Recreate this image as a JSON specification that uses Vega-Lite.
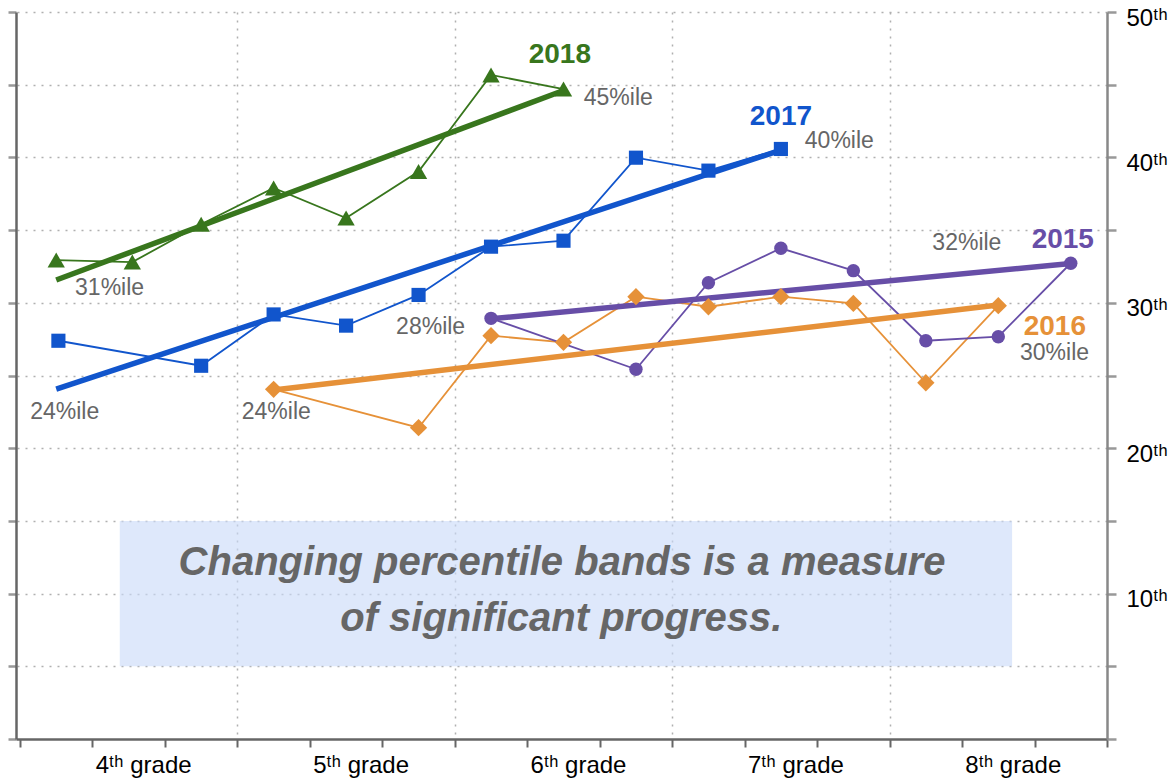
{
  "$schema": "https://vega.github.io/schema/vega-lite/v6.json",
  "width": 1091,
  "height": 727,
  "autosize": "none",
  "padding": {"left": 16, "top": 12, "right": 67, "bottom": 42},
  "background": "white",
  "config": {"view": {"stroke": null}, "font": "Liberation Sans"},
  "datasets": {
    "pts": [
      {"series": "2018", "kind": "actual", "x": 0.5, "y": 32.94},
      {"series": "2018", "kind": "actual", "x": 1.55, "y": 32.8},
      {"series": "2018", "kind": "actual", "x": 2.5, "y": 35.4},
      {"series": "2018", "kind": "actual", "x": 3.5, "y": 37.9},
      {"series": "2018", "kind": "actual", "x": 4.5, "y": 35.83},
      {"series": "2018", "kind": "actual", "x": 5.5, "y": 39.03},
      {"series": "2018", "kind": "actual", "x": 6.5, "y": 45.67},
      {"series": "2018", "kind": "actual", "x": 7.5, "y": 44.7},
      {"series": "2018", "kind": "trend", "x": 0.5, "y": 31.57},
      {"series": "2018", "kind": "trend", "x": 7.5, "y": 44.6},
      {"series": "2017", "kind": "actual", "x": 0.53, "y": 27.39},
      {"series": "2017", "kind": "actual", "x": 2.5, "y": 25.67},
      {"series": "2017", "kind": "actual", "x": 3.5, "y": 29.2},
      {"series": "2017", "kind": "actual", "x": 4.5, "y": 28.43},
      {"series": "2017", "kind": "actual", "x": 5.5, "y": 30.54},
      {"series": "2017", "kind": "actual", "x": 6.5, "y": 33.86},
      {"series": "2017", "kind": "actual", "x": 7.5, "y": 34.27},
      {"series": "2017", "kind": "actual", "x": 8.5, "y": 39.98},
      {"series": "2017", "kind": "actual", "x": 9.5, "y": 39.09},
      {"series": "2017", "kind": "actual", "x": 10.5, "y": 40.58},
      {"series": "2017", "kind": "trend", "x": 0.5, "y": 24.07},
      {"series": "2017", "kind": "trend", "x": 10.5, "y": 40.5},
      {"series": "2016", "kind": "actual", "x": 3.5, "y": 24.05},
      {"series": "2016", "kind": "actual", "x": 5.5, "y": 21.41},
      {"series": "2016", "kind": "actual", "x": 6.5, "y": 27.74},
      {"series": "2016", "kind": "actual", "x": 7.5, "y": 27.28},
      {"series": "2016", "kind": "actual", "x": 8.5, "y": 30.42},
      {"series": "2016", "kind": "actual", "x": 9.5, "y": 29.73},
      {"series": "2016", "kind": "actual", "x": 10.5, "y": 30.42},
      {"series": "2016", "kind": "actual", "x": 11.5, "y": 29.96},
      {"series": "2016", "kind": "actual", "x": 12.5, "y": 24.5},
      {"series": "2016", "kind": "actual", "x": 13.5, "y": 29.8},
      {"series": "2016", "kind": "trend", "x": 3.5, "y": 24.0},
      {"series": "2016", "kind": "trend", "x": 13.5, "y": 29.85},
      {"series": "2015", "kind": "actual", "x": 6.5, "y": 28.93},
      {"series": "2015", "kind": "actual", "x": 8.5, "y": 25.43},
      {"series": "2015", "kind": "actual", "x": 9.5, "y": 31.38},
      {"series": "2015", "kind": "actual", "x": 10.5, "y": 33.75},
      {"series": "2015", "kind": "actual", "x": 11.5, "y": 32.21},
      {"series": "2015", "kind": "actual", "x": 12.5, "y": 27.39},
      {"series": "2015", "kind": "actual", "x": 13.5, "y": 27.67},
      {"series": "2015", "kind": "actual", "x": 14.5, "y": 32.72},
      {"series": "2015", "kind": "trend", "x": 6.5, "y": 28.9},
      {"series": "2015", "kind": "trend", "x": 14.5, "y": 32.7}
    ],
    "years": [
      {"series": "2018", "text": "2018", "x": 7.45, "y": 47.04},
      {"series": "2017", "text": "2017", "x": 10.5, "y": 42.78},
      {"series": "2015", "text": "2015", "x": 14.39, "y": 34.32},
      {"series": "2016", "text": "2016", "x": 14.28, "y": 28.35}
    ],
    "pct": [
      {"text": "45%ile", "x": 7.78, "y": 44.09},
      {"text": "40%ile", "x": 10.83, "y": 41.13},
      {"text": "31%ile", "x": 0.76, "y": 31.02},
      {"text": "24%ile", "x": 0.14, "y": 22.49},
      {"text": "24%ile", "x": 3.06, "y": 22.49},
      {"text": "28%ile", "x": 5.19, "y": 28.34},
      {"text": "32%ile", "x": 12.59, "y": 34.11},
      {"text": "30%ile", "x": 13.8, "y": 26.55}
    ],
    "box": [
      {"x": 1.377, "x2": 13.69, "y0": 5, "y1": 15}
    ],
    "note": [
      {"text": "Changing percentile bands is a measure", "x": 7.48, "y": 11.28},
      {"text": "of significant progress.", "x": 7.47, "y": 7.45}
    ]
  },
  "encoding": {
    "x": {
      "field": "x", "type": "quantitative",
      "scale": {"domain": [-0.055, 15], "nice": false, "zero": false},
      "axis": {
        "orient": "bottom",
        "title": null,
        "values": [0, 1, 1.7, 2, 3, 4, 4.7, 5, 6, 7, 7.7, 8, 9, 10, 10.7, 11, 12, 13, 13.7, 14, 15],
        "grid": true,
        "gridDash": [2, 6],
        "gridColor": "#b0b0b0",
        "gridWidth": 1.5,
        "gridOpacity": {"condition": {"test": "datum.value % 3 === 0 && datum.value > 0 && datum.value < 15", "value": 1}, "value": 0},
        "tickOpacity": {"condition": {"test": "datum.value % 1 !== 0", "value": 0}, "value": 1},
        "tickColor": "#666666",
        "tickWidth": 2,
        "tickSize": 8,
        "domainColor": "#666666",
        "domainWidth": 2.5,
        "labelExpr": "datum.value % 1 === 0 ? '' : (floor(datum.value / 3) + 4) + 'ᵗʰ grade'",
        "labelFont": "Liberation Sans",
        "labelFontSize": 24,
        "labelColor": "#000000",
        "labelPadding": 6,
        "labelOverlap": false,
        "labelFlush": false
      }
    }
  },
  "layer": [
    {
      "data": {"name": "box"},
      "mark": {"type": "rect", "fill": "#c9daf8", "opacity": 0.62},
      "encoding": {
        "x2": {"field": "x2"},
        "y": {
          "field": "y0", "type": "quantitative",
          "scale": {"domain": [0, 50], "nice": false, "zero": false},
          "axis": {
            "orient": "right",
            "title": null,
            "values": [0, 5, 10, 15, 20, 25, 30, 35, 40, 45, 50],
            "grid": true,
            "gridDash": [2, 6],
            "gridColor": "#b0b0b0",
            "gridWidth": 1.5,
            "gridOpacity": {"condition": {"test": "datum.value === 0", "value": 0}, "value": 1},
            "domainColor": "#888888",
            "domainWidth": 2.5,
            "tickColor": "#999999",
            "tickWidth": 2.5,
            "tickSize": 9,
            "labelExpr": "datum.value % 10 === 0 && datum.value > 0 ? datum.value + 'ᵗʰ' : ''",
            "labelFont": "Liberation Sans",
            "labelFontSize": 24,
            "labelColor": "#000000",
            "labelPadding": 10,
            "labelBaseline": "middle",
            "labelOffset": 6,
            "labelOverlap": false,
            "labelFlush": false
          }
        },
        "y2": {"field": "y1"}
      }
    },
    {
      "data": {"name": "pts"},
      "transform": [{"filter": "datum.kind === 'actual'"}],
      "mark": {"type": "line", "strokeWidth": 1.8},
      "encoding": {
        "y": {
          "field": "y", "type": "quantitative",
          "axis": {
            "orient": "left",
            "title": null,
            "values": [0, 5, 10, 15, 20, 25, 30, 35, 40, 45, 50],
            "grid": false,
            "labels": false,
            "domainColor": "#666666",
            "domainWidth": 2.5,
            "tickColor": "#999999",
            "tickWidth": 2.5,
            "tickSize": 8
          }
        },
        "detail": {"field": "series"},
        "order": {"field": "x", "type": "quantitative"},
        "color": {
          "field": "series", "type": "nominal",
          "scale": {"domain": ["2015", "2016", "2017", "2018"], "range": ["#674ea7", "#e69138", "#1155cc", "#38761d"]},
          "legend": null
        }
      }
    },
    {
      "data": {"name": "pts"},
      "transform": [{"filter": "datum.kind === 'trend'"}],
      "mark": {"type": "line", "strokeWidth": 5.5},
      "encoding": {
        "y": {"field": "y", "type": "quantitative", "axis": null},
        "detail": {"field": "series"},
        "color": {"field": "series", "type": "nominal", "legend": null}
      }
    },
    {
      "data": {"name": "pts"},
      "transform": [{"filter": "datum.kind === 'actual'"}],
      "mark": {"type": "point", "filled": true, "opacity": 1},
      "encoding": {
        "y": {"field": "y", "type": "quantitative", "axis": null},
        "color": {"field": "series", "type": "nominal", "legend": null},
        "shape": {
          "field": "series", "type": "nominal",
          "scale": {"domain": ["2015", "2016", "2017", "2018"], "range": ["circle", "diamond", "square", "triangle-up"]},
          "legend": null
        },
        "size": {
          "field": "series", "type": "nominal",
          "scale": {"type": "ordinal", "domain": ["2015", "2016", "2017", "2018"], "range": [180, 300, 200, 300]},
          "legend": null
        }
      }
    },
    {
      "data": {"name": "years"},
      "mark": {"type": "text", "fontSize": 28, "fontWeight": "bold", "align": "center", "baseline": "middle", "font": "Liberation Sans"},
      "encoding": {
        "y": {"field": "y", "type": "quantitative", "axis": null},
        "text": {"field": "text"},
        "color": {"field": "series", "type": "nominal", "legend": null}
      }
    },
    {
      "data": {"name": "pct"},
      "mark": {"type": "text", "fontSize": 23, "align": "left", "baseline": "middle", "color": "#666666", "font": "Liberation Sans"},
      "encoding": {
        "y": {"field": "y", "type": "quantitative", "axis": null},
        "text": {"field": "text"}
      }
    },
    {
      "data": {"name": "note"},
      "mark": {"type": "text", "fontSize": 40, "fontWeight": "bold", "fontStyle": "italic", "align": "center", "baseline": "alphabetic", "color": "#666666", "font": "Liberation Sans"},
      "encoding": {
        "y": {"field": "y", "type": "quantitative", "axis": null},
        "text": {"field": "text"}
      }
    }
  ],
  "resolve": {"axis": {"y": "independent"}}
}
